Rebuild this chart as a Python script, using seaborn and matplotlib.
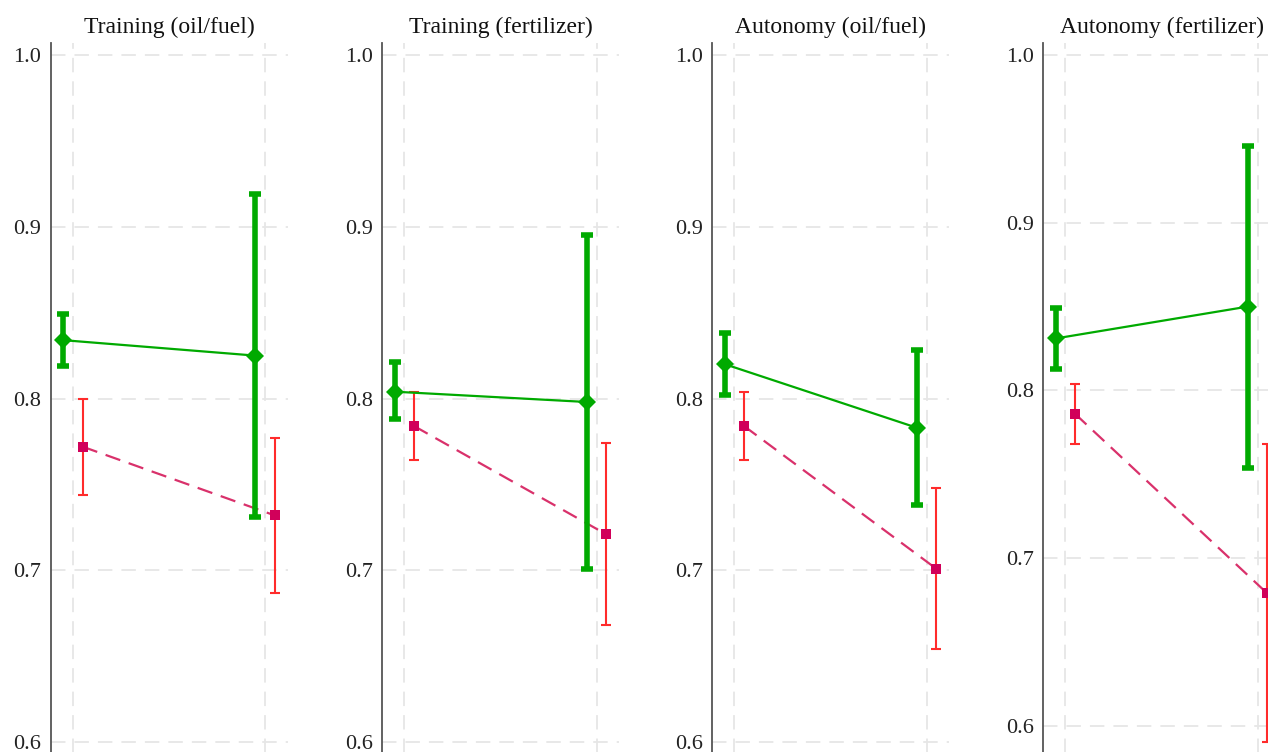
import pandas as pd
import matplotlib
matplotlib.use("Agg")
import matplotlib.pyplot as plt
import seaborn as sns

# Données
titles = ["Training (oil/fuel)", "Training (fertilizer)",
          "Autonomy (oil/fuel)", "Autonomy (fertilizer)"]
groups = [0, 1]

green_mean = [[0.834, 0.825], [0.804, 0.798], [0.820, 0.783], [0.831, 0.850]]
green_lo = [[0.819, 0.731], [0.788, 0.701], [0.802, 0.738], [0.813, 0.754]]
green_hi = [[0.849, 0.919], [0.821, 0.895], [0.838, 0.828], [0.849, 0.946]]

red_mean = [[0.772, 0.732], [0.784, 0.721], [0.784, 0.701], [0.786, 0.679]]
red_lo = [[0.744, 0.687], [0.764, 0.668], [0.764, 0.654], [0.768, 0.590]]
red_hi = [[0.800, 0.777], [0.804, 0.774], [0.804, 0.748], [0.804, 0.768]]

yticks = [0.6, 0.7, 0.8, 0.9, 1.0]
ylims = [(0.55, 1.007), (0.55, 1.007), (0.55, 1.007), (0.539, 1.0072)]

sns.set_theme(style="white")
plt.rcParams["font.family"] = ["Liberation Serif", "DejaVu Serif"]

GREEN = "#00aa00"
RED_LINE = "#d9316b"
RED_MARK = "#d1005a"
RED_BAR = "#ff2b2b"
off = 0.05

W, H = 1268, 752
fig = plt.figure(figsize=(W / 100, H / 100), dpi=100)

lefts = [50.5, 382, 712, 1043]
ax_w, top_px, bot_px = 237, 43, 828

for i, title in enumerate(titles):
    ax = fig.add_axes([lefts[i] / W, 1 - bot_px / H, ax_w / W, (bot_px - top_px) / H])

    g = pd.DataFrame({"x": [x - off for x in groups], "y": green_mean[i]})
    r = pd.DataFrame({"x": [x + off for x in groups], "y": red_mean[i]})

    # lignes + marqueurs
    sns.lineplot(data=r, x="x", y="y", ax=ax, color=RED_LINE, linewidth=1.6,
                 dashes=False, linestyle=(0, (7, 4)), errorbar=None, zorder=3)
    sns.lineplot(data=r, x="x", y="y", ax=ax, color=RED_MARK, marker="s",
                 markersize=7, markeredgewidth=0, linewidth=0, errorbar=None, zorder=5)
    sns.lineplot(data=g, x="x", y="y", ax=ax, color=GREEN, marker="D",
                 markersize=9, markeredgewidth=0, linewidth=1.6, errorbar=None, zorder=6)

    # barres d'erreur
    gy = g["y"].values
    ax.errorbar(g["x"], gy, yerr=[gy - green_lo[i], [h - m for h, m in zip(green_hi[i], gy)]],
                fmt="none", ecolor=GREEN, elinewidth=4, capsize=4.5, capthick=4, zorder=6)
    ry = r["y"].values
    ax.errorbar(r["x"], ry, yerr=[ry - red_lo[i], [h - m for h, m in zip(red_hi[i], ry)]],
                fmt="none", ecolor=RED_BAR, elinewidth=1.5, capsize=3.5, capthick=1.5, zorder=4)

    ax.set_xlim(-0.117, 1.117)
    ax.set_ylim(*ylims[i])
    ax.set_xticks(groups)
    ax.set_yticks(yticks)
    ax.set_yticklabels([f"{t:.1f}" for t in yticks])
    ax.set_xticklabels([])
    ax.set_xlabel("")
    ax.set_ylabel("")
    ax.tick_params(axis="x", length=0)
    ax.tick_params(axis="y", direction="out", length=5, width=1.2, color="#444444",
                   labelsize=16, pad=1.5, labelcolor="#222222")
    ax.grid(True, color="#e6e6e6", linestyle=(0, (8, 5)), linewidth=1.3)
    ax.set_axisbelow(True)
    for s in ["top", "right", "bottom"]:
        ax.spines[s].set_visible(False)
    ax.spines["left"].set_color("#555555")
    ax.spines["left"].set_linewidth(1.3)
    ax.set_title(title, fontsize=17, pad=7, color="#111111")

fig.savefig("out.png", dpi=100)
